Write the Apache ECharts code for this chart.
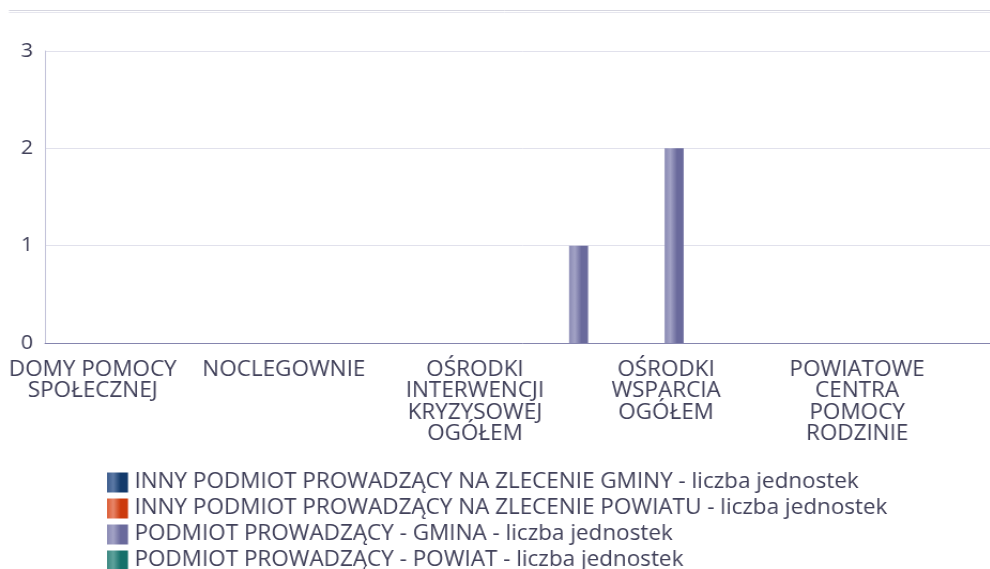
<!DOCTYPE html>
<html>
<head>
<meta charset="utf-8">
<title>Jednostki pomocy społecznej</title>
<script src="https://cdn.jsdelivr.net/npm/echarts@6/dist/echarts.min.js"></script>
<style>
  html, body { margin: 0; padding: 0; background: #ffffff; overflow: hidden; }
  #chart { height: 569px; transform-origin: 0 0; }
</style>
</head>
<body>
<div id="chart"></div>
<script>
// Categories of social-assistance units (every other label is shown on the axis)
const categories = [
  'DOMY POMOCY\nSPOŁECZNEJ',
  'JEDNOSTKI\nSPECJALISTYCZNEGO\nPORADNICTWA',
  'NOCLEGOWNIE',
  'OGRZEWALNIE',
  'OŚRODKI\nINTERWENCJI\nKRYZYSOWEJ\nOGÓŁEM',
  'OŚRODKI\nPOMOCY\nSPOŁECZNEJ',
  'OŚRODKI\nWSPARCIA\nOGÓŁEM',
  'PLACÓWKI\nOPIEKUŃCZO-\nWYCHOWAWCZE',
  'POWIATOWE\nCENTRA\nPOMOCY\nRODZINIE',
  'SCHRONISKA'
];

const seriesNames = [
  'INNY PODMIOT PROWADZĄCY NA ZLECENIE GMINY - liczba jednostek',
  'INNY PODMIOT PROWADZĄCY NA ZLECENIE POWIATU - liczba jednostek',
  'PODMIOT PROWADZĄCY - GMINA - liczba jednostek',
  'PODMIOT PROWADZĄCY - POWIAT - liczba jednostek'
];

const innyGmina   = [0, 0, 0, 0, 0, 0, 0, 0, 0, 0];
const innyPowiat  = [0, 0, 0, 0, 0, 0, 0, 0, 0, 0];
const gmina       = [0, 0, 0, 0, 0, 1, 2, 0, 0, 0];
const powiat      = [0, 0, 0, 0, 0, 0, 0, 0, 0, 0];

const yTicks = [0, 1, 2, 3];

// The chart is laid out in a slightly narrower box and widened horizontally.
const SX = 1.07;
const W = 1000 / SX;
const el = document.getElementById('chart');
el.style.width = W + 'px';
el.style.transform = 'scaleX(' + SX + ')';
const px = v => v / SX;

// cylinder-like horizontal shading for each series
function shade(light, mid, dark) {
  return new echarts.graphic.LinearGradient(0, 0, 1, 0, [
    { offset: 0, color: mid },
    { offset: 0.3, color: light },
    { offset: 0.65, color: dark },
    { offset: 1, color: dark }
  ]);
}
const palette = [
  shade('#5d7aa6', '#3b5b8c', '#133a6b'),
  shade('#e8876a', '#dc5c34', '#cc3a0c'),
  shade('#a3a3c6', '#8a8ab4', '#6a6a9c'),
  shade('#5fa39d', '#3a8680', '#16706b')
];

const seriesData = [innyGmina, innyPowiat, gmina, powiat];

const chart = echarts.init(el);
const font = '"Open Sans", sans-serif';
const ink = '#41415a';

chart.setOption({
  animation: false,
  textStyle: { fontFamily: font },
  grid: { left: px(45), right: 0, top: 51, bottom: 226, containLabel: false },
  legend: {
    orient: 'vertical',
    left: px(107),
    top: 472,
    height: 120,
    padding: 0,
    itemWidth: px(21),
    itemHeight: 20,
    itemGap: 5,
    icon: 'rect',
    textStyle: { fontFamily: font, fontSize: 21, color: ink, padding: [0, 0, 0, 1] },
    data: seriesNames
  },
  xAxis: {
    type: 'category',
    data: categories,
    axisLine: { show: true, lineStyle: { color: '#8585ae', width: 1 } },
    axisTick: { show: false },
    axisLabel: {
      interval: 1,
      margin: 16,
      fontFamily: font,
      fontSize: 21,
      lineHeight: 21.5,
      color: ink,
      align: 'center'
    },
    splitLine: { show: false }
  },
  yAxis: {
    type: 'value',
    min: yTicks[0],
    max: yTicks[yTicks.length - 1],
    interval: 1,
    axisLine: { show: true, lineStyle: { color: '#c4c4da', width: 1 } },
    axisTick: { show: false },
    axisLabel: { margin: px(12), fontFamily: font, fontSize: 20, color: ink },
    splitLine: { show: true, lineStyle: { color: '#e1e1ec', width: 1 } }
  },
  series: seriesNames.map((name, i) => ({
    name: name,
    type: 'bar',
    data: seriesData[i],
    barWidth: px(19),
    barGap: '-15%',
    itemStyle: { color: palette[i] }
  })),
  graphic: [
    { type: 'line', shape: { x1: px(9), y1: 10.5, x2: W, y2: 10.5 }, style: { stroke: '#d6d6e0', lineWidth: 1 } },
    { type: 'line', shape: { x1: px(9), y1: 12.5, x2: W, y2: 12.5 }, style: { stroke: '#e6e6ee', lineWidth: 1 } }
  ]
});
</script>
</body>
</html>
